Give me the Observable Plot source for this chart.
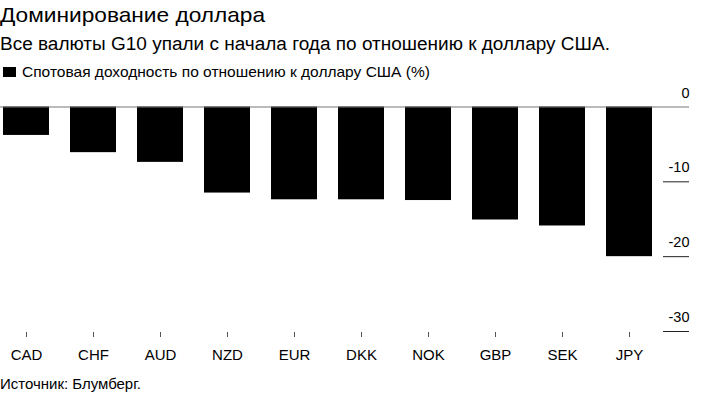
<!DOCTYPE html>
<html>
<head>
<meta charset="utf-8">
<script src="https://cdn.jsdelivr.net/npm/d3@7"></script>
<script src="https://cdn.jsdelivr.net/npm/@observablehq/plot@0.6"></script>
<style>
  html, body { margin: 0; padding: 0; background: #fff; }
  #wrap { position: relative; width: 703px; height: 398px; font-family: "Liberation Sans", Arial, sans-serif; color: #000; overflow: hidden; }
  .t { position: absolute; left: 0; white-space: nowrap; line-height: 1; transform-origin: 0 50%; }
  #title { top: 4px; font-size: 21px; transform: scaleX(1.08); }
  #subtitle { top: 35px; font-size: 18px; transform: scaleX(1.055); }
  #legend { top: 65px; font-size: 14.5px; left: 3px; }
  #legend .sw { display: inline-block; width: 13px; height: 10px; background: #000; margin-right: 6px; vertical-align: 0px; }
  #legend .lt { display: inline-block; transform: scaleX(1.07); transform-origin: 0 50%; }
  #source { top: 377px; font-size: 14px; transform: scaleX(1.07); }
  #chart { position: absolute; left: 0; top: 80px; }
</style>
</head>
<body>
<div id="wrap">
  <div class="t" id="title">Доминирование доллара</div>
  <div class="t" id="subtitle">Все валюты G10 упали с начала года по отношению к доллару США.</div>
  <div class="t" id="legend"><span class="sw"></span><span class="lt">Спотовая доходность по отношению к доллару США (%)</span></div>
  <div id="chart"></div>
  <div class="t" id="source">Источник: Блумберг.</div>
</div>
<script>
const currencies = ["CAD", "CHF", "AUD", "NZD", "EUR", "DKK", "NOK", "GBP", "SEK", "JPY"];
const spotReturns = [-3.8, -6.1, -7.4, -11.5, -12.4, -12.4, -12.5, -15.1, -15.9, -20.0];
const yTicks = [0, -10, -20, -30];

const data = currencies.map((c, i) => ({currency: c, value: spotReturns[i]}));

const W = 703, H = 290;
const mLeft = 0, mRight = 47.3, mTop = 26.5, mBottom = 39;
const frameRight = W - mRight;

const chart = Plot.plot({
  width: W,
  height: H,
  marginLeft: mLeft,
  marginRight: mRight,
  marginTop: mTop,
  marginBottom: mBottom,
  style: {fontFamily: "'Liberation Sans', Arial, sans-serif", fontSize: "14px", color: "#000", background: "transparent"},
  x: {domain: currencies, paddingInner: 0.317, paddingOuter: 0.0297, label: null},
  y: {domain: [-30, 0], label: null},
  marks: [
    Plot.barY(data, {x: "currency", y: "value", fill: "#000"}),
    Plot.ruleY([0], {stroke: "#777", strokeWidth: 1, insetRight: -(689 - frameRight)}),
    Plot.ruleY(yTicks.filter(d => d !== 0), {stroke: "#222", strokeWidth: 1, insetLeft: 663, insetRight: -(689 - frameRight)}),
    Plot.axisY({anchor: "right", ticks: yTicks, tickSize: 0, tickPadding: 689 - frameRight, textAnchor: "end", dy: -14, fontSize: 14.5, tickFormat: d => d === 0 ? "0" : String(d), label: null}),
    Plot.axisX({tickSize: 5, tickPadding: 12, fontSize: 15, stroke: "#555", dy: 1, label: null, style: {letterSpacing: "0.6px"}})
  ]
});
document.getElementById("chart").appendChild(chart);
</script>
</body>
</html>
